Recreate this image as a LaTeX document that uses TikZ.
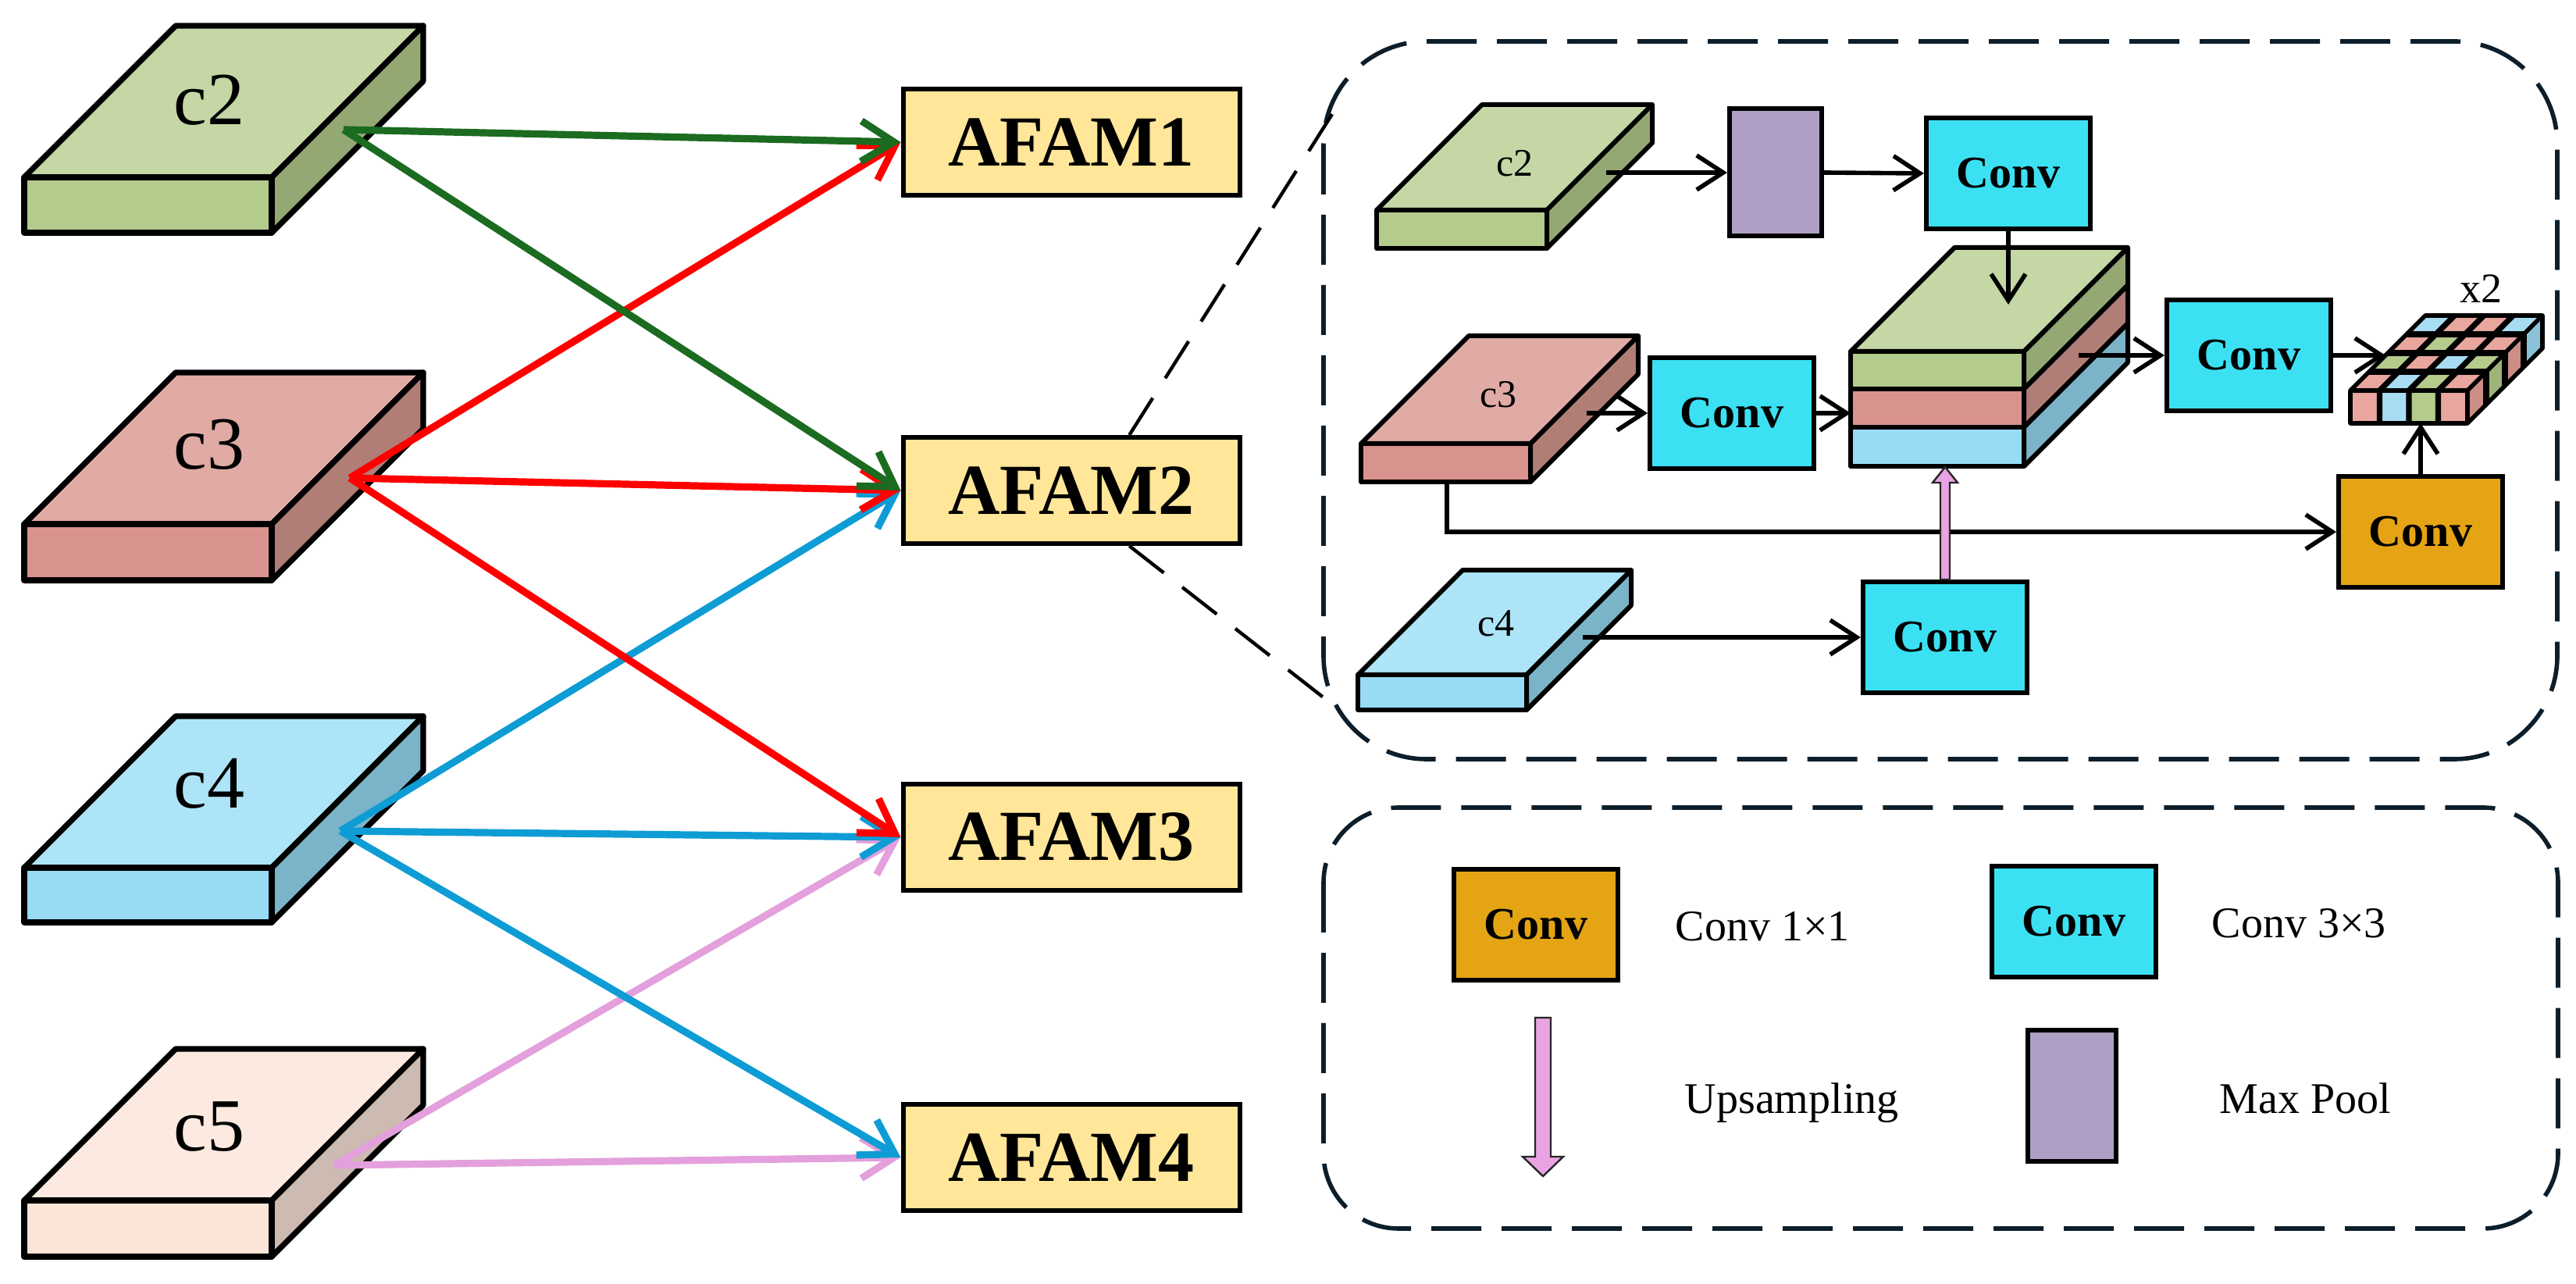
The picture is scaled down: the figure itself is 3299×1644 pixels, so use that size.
\documentclass[tikz,border=0pt]{standalone}
\usepackage{fontspec}
\setmainfont{Liberation Serif}
\usetikzlibrary{arrows.meta,calc}
\definecolor{gTop}{HTML}{C4D7A5}
\definecolor{gFront}{HTML}{B3CB8D}
\definecolor{gSide}{HTML}{93A872}
\definecolor{rTop}{HTML}{E0AAA5}
\definecolor{rFront}{HTML}{D9938E}
\definecolor{rSide}{HTML}{B07D77}
\definecolor{bTop}{HTML}{ADE4F7}
\definecolor{bFront}{HTML}{97DBF5}
\definecolor{bSide}{HTML}{7BB3C9}
\definecolor{pTop}{HTML}{FCEAE0}
\definecolor{pFront}{HTML}{FBE5D9}
\definecolor{pSide}{HTML}{CDBAB1}
\definecolor{afamY}{HTML}{FFE699}
\definecolor{convC}{HTML}{3BE1F2}
\definecolor{convO}{HTML}{E4A414}
\definecolor{poolP}{HTML}{B09FC4}
\definecolor{upP}{HTML}{E9A3E2}
\definecolor{arG}{HTML}{1B6B20}
\definecolor{arR}{HTML}{FF0000}
\definecolor{arB}{HTML}{0E9CD5}
\definecolor{arP}{HTML}{E3A0DC}
\definecolor{dashC}{HTML}{0D1E2B}
\definecolor{cellP}{HTML}{E8A69E}
\definecolor{cellB}{HTML}{A8DCF2}
\definecolor{cellG}{HTML}{B4CB8C}
\definecolor{cellPs}{HTML}{CC8E86}
\definecolor{cellBs}{HTML}{8BC2D8}
\definecolor{cellGs}{HTML}{9DB377}
\newcommand{\myslab}[8]{%
  \filldraw[fill=#6] (#1,#2) -- ({#1+#5},{#2-#5}) -- ({#1+#3+#5},{#2-#5}) -- ({#1+#3},#2) -- cycle;
  \filldraw[fill=#8] ({#1+#3},#2) -- ({#1+#3+#5},{#2-#5}) -- ({#1+#3+#5},{#2-#5+#4}) -- ({#1+#3},{#2+#4}) -- cycle;
  \filldraw[fill=#7] (#1,#2) rectangle ({#1+#3},{#2+#4});
}
\tikzset{
  biglbl/.style={font=\fontsize{24}{26}\selectfont, inner sep=0pt},
  smlbl/.style={font=\fontsize{12.5}{14}\selectfont, inner sep=0pt},
  afam/.style={draw, line width=1.5pt, fill=afamY, minimum width=107.75pt, minimum height=34pt, inner sep=0pt, font=\fontsize{23}{25}\selectfont\bfseries},
  convbox/.style={draw, line width=1.5pt, fill=convC, minimum width=52.5pt, minimum height=35.5pt, inner sep=0pt, font=\fontsize{14.5}{16}\selectfont\bfseries},
  convone/.style={convbox, fill=convO},
  poolbox/.style={draw, line width=1.5pt, fill=poolP, minimum width=29.5pt, minimum height=40.75pt, inner sep=0pt},
  carrow/.style={line width=2.3pt, -{Straight Barb[length=10.5pt,width=13pt]}},
  karrow/.style={line width=1.4pt, draw=black, -{Straight Barb[length=8.5pt,width=11pt]}},
  panel/.style={draw=dashC, line width=1.4pt, dash pattern=on 16pt off 6.5pt, rounded corners=33pt},
  legpanel/.style={draw=dashC, line width=1.4pt, dash pattern=on 16pt off 6.5pt, rounded corners=24pt},
  zoomline/.style={draw=black, line width=1.1pt, dash pattern=on 14pt off 7.5pt},
  fatarrow/.style={fill=upP, draw=black!85, line width=0.6pt, line join=miter},
  lgtxt/.style={font=\fontsize{14}{16}\selectfont, inner sep=0pt, anchor=base west},
  xlbl/.style={font=\fontsize{13.5}{15}\selectfont, inner sep=0pt},
}
\begin{document}
\begin{tikzpicture}[x=0.25pt,y=-0.25pt]
\useasboundingbox (0,0) rectangle (3299,1644);

% ---------- left feature blocks ----------
\begin{scope}[line width=1.8pt, line join=round]
\myslab{31}{227}{317}{71}{194}{gTop}{gFront}{gSide}
\myslab{31}{671}{317}{72}{194}{rTop}{rFront}{rSide}
\myslab{31}{1111}{317}{70}{194}{bTop}{bFront}{bSide}
\myslab{31}{1537}{317}{72}{194}{pTop}{pFront}{pSide}
\end{scope}
\node[biglbl] (L2) at (268,128) {c2};
\node[biglbl] (L3) at (268,569) {c3};
\node[biglbl] (L4) at (268,1003) {c4};
\node[biglbl] (L5) at (268,1443) {c5};

\coordinate (s2) at (440,166);
\coordinate (s3) at (448,612);
\coordinate (s4) at (436,1064);
\coordinate (s5) at (428,1492);

% ---------- AFAM boxes ----------
\node[afam] (A1) at (1372,182) {AFAM1};
\node[afam] (A2) at (1372,628) {AFAM2};
\node[afam] (A3) at (1372,1072) {AFAM3};
\node[afam] (A4) at (1372,1482) {AFAM4};

% ---------- coloured connectors ----------
\draw[carrow,arP] (s5) -- (A3.west);
\draw[carrow,arP] (s5) -- (A4.west);
\draw[carrow,arB] (s4) -- (A2.west);
\draw[carrow,arB] (s4) -- (A3.west);
\draw[carrow,arB] (s4) -- (A4.west);
\draw[carrow,arR] (s3) -- (A1.west);
\draw[carrow,arR] (s3) -- (A2.west);
\draw[carrow,arR] (s3) -- (A3.west);
\draw[carrow,arG] (s2) -- (A1.west);
\draw[carrow,arG] (s2) -- (A2.west);

% ---------- panels ----------
\draw[panel] (1695,53) rectangle (3275,972);
\draw[legpanel] (1695,1034) rectangle (3276,1573);
\coordinate (zt) at (1715,132);
\coordinate (zb) at (1700,897);
\draw[zoomline] ($(A2.north west)!0.67!(A2.north east)$) -- (zt);
\draw[zoomline] ($(A2.south west)!0.67!(A2.south east)$) -- (zb);

% ---------- detail panel ----------
\begin{scope}[line width=1.5pt, line join=round]
\myslab{1763}{269}{218}{49}{135}{gTop}{gFront}{gSide}
\myslab{1743}{568}{217}{49}{138}{rTop}{rFront}{rSide}
\myslab{1739}{864}{216}{45}{134}{bTop}{bFront}{bSide}
% stacked block
\filldraw[fill=gTop] (2370,450) -- (2503,317) -- (2725,317) -- (2592,450) -- cycle;
\filldraw[fill=gSide] (2592,450) -- (2725,317) -- (2725,365) -- (2592,498) -- cycle;
\filldraw[fill=rSide] (2592,498) -- (2725,365) -- (2725,414) -- (2592,547) -- cycle;
\filldraw[fill=bSide] (2592,547) -- (2725,414) -- (2725,464) -- (2592,597) -- cycle;
\filldraw[fill=gFront] (2370,450) rectangle (2592,498);
\filldraw[fill=rFront] (2370,498) rectangle (2592,547);
\filldraw[fill=bFront] (2370,547) rectangle (2592,597);
\end{scope}
\node[smlbl] (m2) at (1940,209) {c2};
\node[smlbl] (m3) at (1919,505) {c3};
\node[smlbl] (m4) at (1916,798) {c4};

% upsampled grid block
\foreach \r/\cl in {0/{cellP,cellB,cellG,cellP},1/{cellG,cellP,cellB,cellG},2/{cellP,cellG,cellP,cellP},3/{cellB,cellP,cellP,cellB}}{
  \foreach \c [count=\i from 0] in \cl {
    \fill[\c] ({3010+37.5*\i+24*\r},{500-24*\r}) -- ({3010+37.5*(\i+1)+24*\r},{500-24*\r})
      -- ({3010+37.5*(\i+1)+24*(\r+1)},{500-24*(\r+1)}) -- ({3010+37.5*\i+24*(\r+1)},{500-24*(\r+1)}) -- cycle;
  }
}
\foreach \c [count=\i from 0] in {cellP,cellB,cellG,cellP}{
  \fill[\c] ({3010+37.5*\i},500) rectangle ({3010+37.5*(\i+1)},542);
}
\foreach \c [count=\r from 0] in {cellPs,cellGs,cellPs,cellBs}{
  \fill[\c] ({3160+24*\r},{500-24*\r}) -- ({3160+24*(\r+1)},{500-24*(\r+1)}) -- ({3160+24*(\r+1)},{542-24*(\r+1)}) -- ({3160+24*\r},{542-24*\r}) -- cycle;
}
\begin{scope}[line width=1.8pt]
\foreach \k in {1,2,3}{
  \draw ({3010+37.5*\k},542) -- ({3010+37.5*\k},500) -- ({3106+37.5*\k},404);
  \draw ({3010+24*\k},{500-24*\k}) -- ({3160+24*\k},{500-24*\k}) -- ({3160+24*\k},{542-24*\k});
}
\end{scope}
\begin{scope}[line width=1.4pt, line join=round]
\draw (3010,500) -- (3106,404) -- (3256,404) -- (3256,446) -- (3160,542) -- (3010,542) -- cycle;
\draw (3010,500) -- (3160,500) -- (3256,404);
\draw (3160,500) -- (3160,542);
\end{scope}
\node[xlbl] (x2) at (3177,370) {x2};

% boxes
\node[poolbox] (mp) at (2274,221) {};
\node[convbox] (k1) at (2572,222) {Conv};
\node[convbox] (k2) at (2218,529) {Conv};
\node[convbox] (k3) at (2880,455) {Conv};
\node[convone] (k5) at (3100,681) {Conv};
\node[convbox] (k4) at (2491,816) {Conv};

% named coordinates on blocks
\coordinate (t2) at (2057,221);
\coordinate (t3) at (2032,529);
\coordinate (t4) at (2027,816);
\coordinate (c3b) at (1853,617);
\coordinate (stkT) at (2572,390);
\coordinate (stkL) at (2370,529);
\coordinate (stkR) at (2662,455);
\coordinate (stkB) at (2486,598);
\coordinate (gridL) at (3055,455);
\coordinate (gridB) at (3100,542);

% black connectors
\draw[karrow] (t2) -- (mp.west);
\draw[karrow] (mp.east) -- (k1.west);
\draw[karrow] (k1.south) -- (stkT);
\draw[karrow] (t3) -- (k2.west);
\draw[karrow] (k2.east) -- (stkL);
\draw[karrow] (stkR) -- (k3.west);
\draw[karrow] (k3.east) -- (gridL);
\draw[karrow] (k5.north) -- (gridB);
\draw[karrow] (c3b) |- (k5.west);
\draw[karrow] (t4) -- (k4.west);

% upsampling arrow
\draw[fatarrow] let \p1=(k4.north), \p2=(stkB) in
  (\x1-1.5pt,\y1) -- (\x1-1.5pt,\y2-5pt) -- (\x1-4pt,\y2-5pt) -- (\x1,\y2) -- (\x1+4pt,\y2-5pt) -- (\x1+1.5pt,\y2-5pt) -- (\x1+1.5pt,\y1) -- cycle;

% ---------- legend ----------
\node[convone] (lg1) at (1967,1184) {Conv};
\node[lgtxt] (lt1) at (2145,1205) {Conv 1×1};
\node[convbox] (lg2) at (2656,1180) {Conv};
\node[lgtxt] (lt2) at (2832,1201) {Conv 3×3};
\coordinate (la1) at (1976,1303);
\coordinate (la2) at (1976,1506);
\draw[fatarrow] let \p1=(la1), \p2=(la2) in
  (\x1-2.5pt,\y1) -- (\x1-2.5pt,\y2+6.25pt) -- (\x1-6.5pt,\y2+6.25pt) -- (\x1,\y2) -- (\x1+6.5pt,\y2+6.25pt) -- (\x1+2.5pt,\y2+6.25pt) -- (\x1+2.5pt,\y1) -- cycle;
\node[lgtxt] (lt3) at (2157,1426) {Upsampling};
\node[poolbox, minimum width=28.25pt, minimum height=42pt] (lg4) at (2653,1403) {};
\node[lgtxt] (lt4) at (2842,1426) {Max Pool};
\end{tikzpicture}
\end{document}
